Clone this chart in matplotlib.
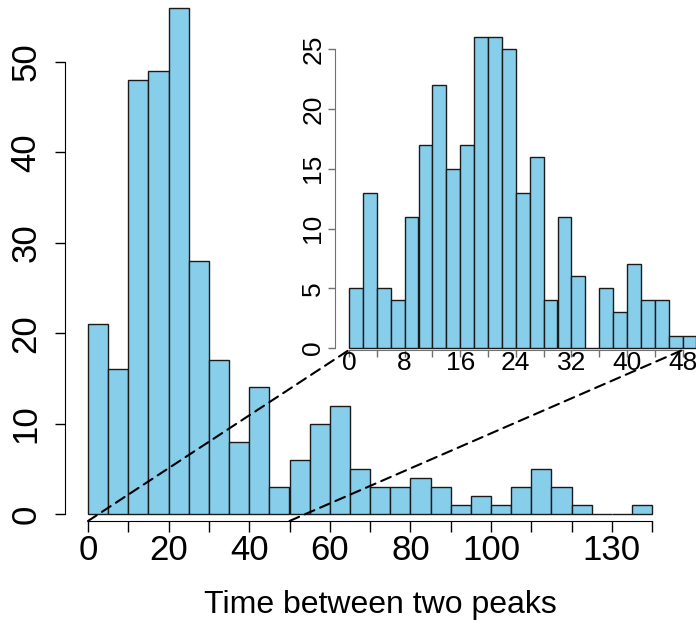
import matplotlib
matplotlib.use("Agg")
import matplotlib.pyplot as plt
import numpy as np
from matplotlib.patches import ConnectionPatch

plt.rcParams["font.family"] = ["Liberation Sans", "DejaVu Sans"]

# main histogram: 5-unit bins from 0 to 140
main_counts = [21, 16, 48, 49, 56, 28, 17, 8, 14, 3, 6, 10, 12, 5,
               3, 3, 4, 3, 1, 2, 1, 3, 5, 3, 1, 0, 0, 1]
main_edges = np.arange(0, 140, 5)
main_xticks = np.arange(0, 141, 10)
main_xlabels = ["0", "", "20", "", "40", "", "60", "", "80", "", "100", "", "", "130", ""]
main_yticks = [0, 10, 20, 30, 40, 50]

# inset: 2-unit bins from 0 to 50
ins_counts = [5, 13, 5, 4, 11, 17, 22, 15, 17, 26, 26, 25, 13, 16,
              4, 11, 6, 0, 5, 3, 7, 4, 4, 1, 1]
ins_edges = np.arange(0, 50, 2)
ins_xticks = np.arange(0, 49, 4)
ins_xlabels = [str(t) if t % 8 == 0 else "" for t in ins_xticks]
ins_yticks = [0, 5, 10, 15, 20, 25]

W, H = 696, 624
fig = plt.figure(figsize=(W / 100, H / 100), dpi=100)

bar_color = "#87CEEB"

# main axes (pixel layout)
ax = fig.add_axes([65 / W, (H - 521) / H, (670 - 65) / W, 521 / H])
ax.bar(main_edges, main_counts, width=5, align="edge", color=bar_color,
       edgecolor="#1a1a1a", linewidth=1.0)
ax.set_xlim(-23 / 4.03, (670 - 88) / 4.03)
ax.set_ylim(-7 / 9.04, 514 / 9.04)
for s in ["top", "right"]:
    ax.spines[s].set_visible(False)
ax.spines["left"].set_bounds(0, 50)
ax.spines["bottom"].set_bounds(0, 140)
ax.set_xticks(main_xticks)
ax.set_xticklabels(main_xlabels)
ax.set_yticks(main_yticks)
ax.set_yticklabels([str(t) for t in main_yticks], rotation=90, va="center")
ax.tick_params(axis="x", length=8, width=1, labelsize=25, pad=1)
ax.tick_params(axis="y", length=7.2, width=1, labelsize=25, pad=9)
ax.patch.set_alpha(0)

fig.text(380 / W, 1 - 605 / H, "Time between two peaks", fontsize=23,
         ha="center", va="center")

# inset axes
axins = fig.add_axes([335 / W, (H - 350) / H, (696.5 - 335) / W, 350 / H])
axins.bar(ins_edges, ins_counts, width=2, align="edge", color=bar_color,
          edgecolor="#1a1a1a", linewidth=1.0)
axins.set_xlim(-14 / 6.95, 50)
axins.set_ylim(-2 / 11.95, 348 / 11.95)
for s in ["top", "right"]:
    axins.spines[s].set_visible(False)
axins.spines["left"].set_bounds(0, 25)
axins.spines["bottom"].set_bounds(0, 48)
for s in ["left", "bottom"]:
    axins.spines[s].set_color("#707070")
axins.set_xticks(ins_xticks)
axins.set_xticklabels(ins_xlabels)
axins.set_yticks(ins_yticks)
axins.set_yticklabels([str(t) for t in ins_yticks], rotation=90, va="center")
axins.tick_params(axis="both", length=5, width=1, color="#707070", labelsize=19)
axins.tick_params(axis="x", pad=-4)
axins.tick_params(axis="y", pad=2)
axins.patch.set_alpha(0)

# dashed zoom lines
for xa, xb in [(0, 0), (50, 48)]:
    con = ConnectionPatch(xyA=(xa, ax.get_ylim()[0]), coordsA=ax.transData,
                          xyB=(xb, axins.get_ylim()[0]), coordsB=axins.transData,
                          color="black", linewidth=1.5, linestyle=(0, (5, 3)))
    con.set_zorder(5)
    fig.add_artist(con)

fig.savefig("out.png", dpi=100)
